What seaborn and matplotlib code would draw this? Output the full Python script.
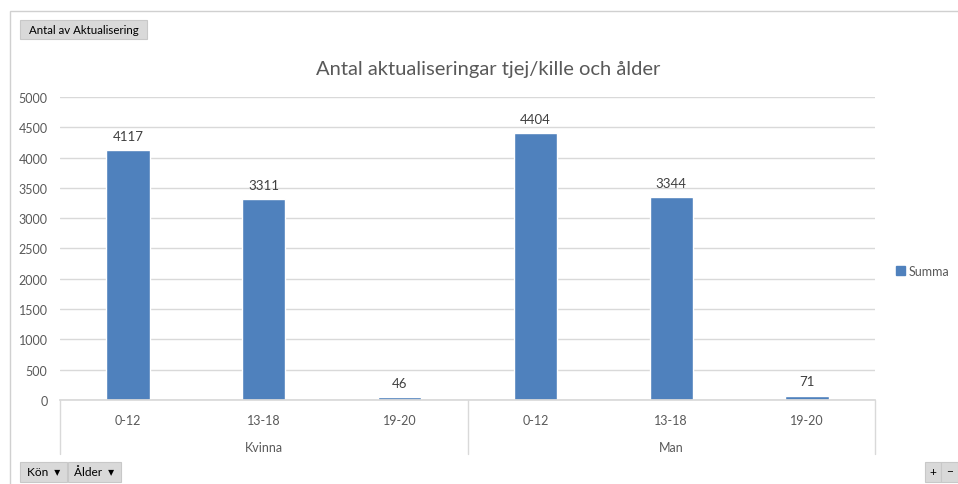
import matplotlib
matplotlib.use("Agg")
import matplotlib.pyplot as plt
import matplotlib.transforms as mtransforms
from matplotlib.patches import Patch, Rectangle
import pandas as pd
import seaborn as sns

kon = ["Kvinna", "Kvinna", "Kvinna", "Man", "Man", "Man"]
alder = ["0-12", "13-18", "19-20", "0-12", "13-18", "19-20"]
summa = [4117, 3311, 46, 4404, 3344, 71]
grupper = ["Kvinna", "Man"]

blue = "#4F81BD"
grey_text = "#595959"
grid_col = "#D9D9D9"

sns.set_theme(style="white")
plt.rcParams["font.family"] = ["Lato", "DejaVu Sans"]

df = pd.DataFrame({"Kön": kon, "Ålder": alder, "Summa": summa})
df["pos"] = df["Kön"] + " " + df["Ålder"]

fig = plt.figure(figsize=(9.58, 4.85), dpi=100)
ax = fig.add_axes([0.0626, 0.1732, 0.8508, 0.6248])

sns.barplot(data=df, x="pos", y="Summa", order=list(df["pos"]), color=blue,
            width=0.32, saturation=1, ax=ax, legend=False)

ax.set_ylim(0, 5000)
ax.set_xlim(-0.5, 5.5)
ax.set_yticks(range(0, 5001, 500))
ax.yaxis.grid(True, color=grid_col, linewidth=1)
ax.set_axisbelow(True)
for s in ["top", "right", "left"]:
    ax.spines[s].set_visible(False)
ax.spines["bottom"].set_color(grid_col)
ax.set_xlabel("")
ax.set_ylabel("")
ax.set_xticks(range(len(alder)))
ax.set_xticklabels(alder)
ax.tick_params(axis="both", length=0, labelsize=9, colors=grey_text, pad=10)
ax.tick_params(axis="y", pad=9)

for c in ax.containers:
    ax.bar_label(c, padding=6, fontsize=9.5, color="#404040")

# group labels and separators below axis
trans = mtransforms.blended_transform_factory(ax.transData, ax.transAxes)
for i, g in enumerate(grupper):
    ax.text(1 + 3 * i, -0.155, g, transform=trans, ha="center", va="center",
            fontsize=9, color=grey_text)
for xv in [-0.5, 2.5, 5.5]:
    ax.plot([xv, xv], [0, -0.178], transform=trans, color=grid_col,
            linewidth=1, clip_on=False)

fig.suptitle("Antal aktualiseringar tjej/kille och ålder", x=0.510, y=0.875,
             fontsize=14.5, color=grey_text)

ax.legend(handles=[Patch(color=blue, label="Summa")], loc="center left",
          bbox_to_anchor=(0.924, 0.44), bbox_transform=fig.transFigure,
          frameon=False, fontsize=9, handlelength=0.7, handleheight=0.7,
          handletextpad=0.3, labelcolor=grey_text)

# outer chart frame
fig.add_artist(Rectangle((0.01, -0.01), 1.0, 0.985, transform=fig.transFigure,
                         fill=False, edgecolor="#D0D0D0", linewidth=1))


def button(x0, y0, w, h, text, size=8.3):
    fig.add_artist(Rectangle((x0 / 958, 1 - (y0 + h) / 485), w / 958, h / 485,
                             transform=fig.transFigure, facecolor="#D9D9D9",
                             edgecolor="#C8C8C8", linewidth=0.8))
    fig.text((x0 + w / 2) / 958, 1 - (y0 + h / 2) / 485, text, ha="center",
             va="center", fontsize=size, color="#000000")


button(20, 21, 127, 19, "Antal av Aktualisering")
button(20, 463, 47, 20, "Kön  ▾", 8.6)
button(68, 463, 53, 20, "Ålder  ▾", 8.6)
button(925, 463, 16, 20, "+", 8.6)
button(941, 463, 17, 20, "−", 8.6)

fig.savefig("out.png", dpi=100)
